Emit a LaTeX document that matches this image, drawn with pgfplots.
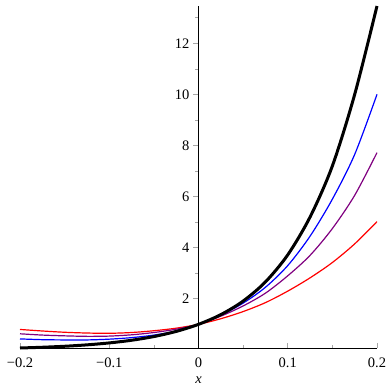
\documentclass[border=0pt]{standalone}
\usepackage{pgfplots}
\pgfplotsset{compat=1.18}
\usepackage{fontspec}
\setmainfont{Liberation Serif}
\definecolor{mpurple}{RGB}{128,0,128}
\begin{document}
\begin{tikzpicture}
\path[use as bounding box] (-20pt,-44pt) rectangle (372pt,348pt);
\begin{axis}[
  scale only axis,
  width=357pt, height=342pt,
  xmin=-0.2, xmax=0.2,
  ymin=0.074, ymax=13.46,
  axis x line=bottom,
  axis y line=middle,
  axis line style={-, black, line width=0.9pt},
  xtick={-0.2,-0.1,0,0.1,0.2},
  xticklabels={−0.2,−0.1,0,0.1,0.2},
  minor xtick={-0.15,-0.05,0.05,0.15},
  ytick={2,4,6,8,10,12},
  minor ytick={1,3,5,7,9,11,13},
  hide obscured x ticks=false,
  xtick align=inside,
  ytick align=outside,
  major tick length=5pt,
  minor tick length=3pt,
  every tick/.style={gray!70, line width=0.6pt},
  tick label style={font=\fontsize{14.5}{16}\selectfont},
  /pgf/number format/assume math mode=true,
  xticklabel style={anchor=north, yshift=-6pt},
  yticklabel style={anchor=east, xshift=-0.5pt},
  xlabel={\textit{x}},
  xlabel style={font=\fontsize{14.5}{16}\selectfont, at={(axis description cs:0.5,0)}, anchor=north, yshift=-25pt},
  clip=false,
]
\addplot[red, line width=1.2pt, smooth] coordinates {
(-0.2,0.80) (-0.175,0.74) (-0.15,0.69) (-0.125,0.66) (-0.1,0.65) (-0.075,0.68) (-0.05,0.75) (-0.025,0.85) (0,1)
(0.025,1.22) (0.05,1.50) (0.075,1.85) (0.1,2.30) (0.125,2.82) (0.15,3.42) (0.175,4.15) (0.2,5.02)};
\addplot[mpurple, line width=1.2pt, smooth] coordinates {
(-0.2,0.63) (-0.175,0.58) (-0.15,0.55) (-0.125,0.53) (-0.1,0.54) (-0.075,0.59) (-0.05,0.68) (-0.025,0.81) (0,1)
(0.025,1.32) (0.05,1.72) (0.075,2.22) (0.1,2.90) (0.125,3.70) (0.15,4.75) (0.175,6.05) (0.2,7.72)};
\addplot[blue, line width=1.2pt, smooth] coordinates {
(-0.2,0.43) (-0.175,0.40) (-0.15,0.39) (-0.125,0.39) (-0.1,0.42) (-0.075,0.48) (-0.05,0.58) (-0.025,0.74) (0,1)
(0.025,1.36) (0.05,1.83) (0.075,2.45) (0.1,3.30) (0.125,4.45) (0.15,5.90) (0.175,7.65) (0.2,10.0)};
\addplot[black, line width=3pt, smooth] coordinates {
(-0.2,0.074) (-0.175,0.103) (-0.15,0.142) (-0.125,0.197) (-0.1,0.273) (-0.075,0.377) (-0.05,0.522) (-0.025,0.723) (0,1)
(0.025,1.38) (0.05,1.91) (0.075,2.66) (0.1,3.72) (0.125,5.20) (0.15,7.20) (0.175,10.0) (0.2,13.46)};
\end{axis}
\end{tikzpicture}
\end{document}
